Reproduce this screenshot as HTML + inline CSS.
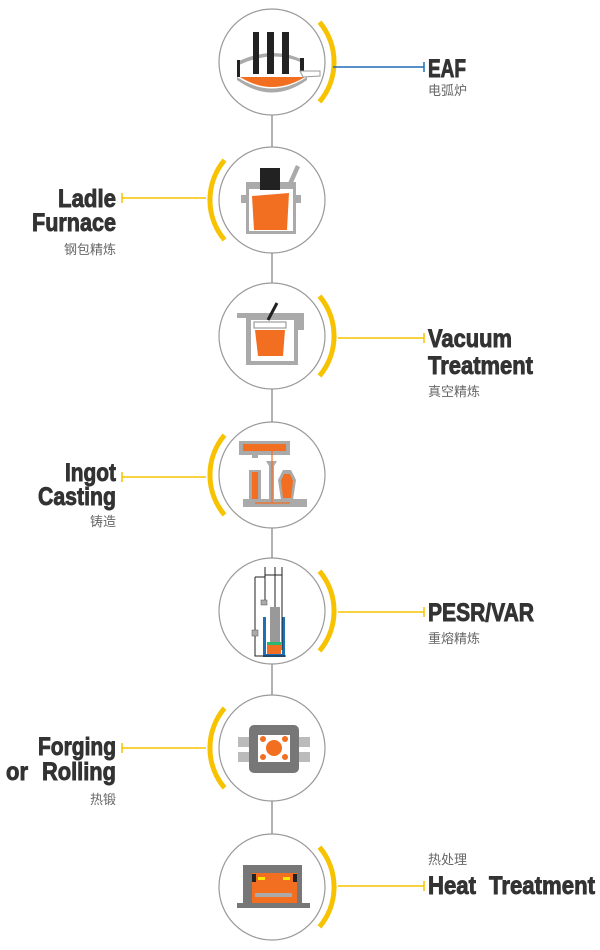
<!DOCTYPE html>
<html><head><meta charset="utf-8"><style>
html,body{margin:0;padding:0;background:#fff;}
svg{display:block;}
.t{font-family:"Liberation Sans",sans-serif;font-weight:bold;font-size:25px;fill:#333;stroke:#333;stroke-width:0.9;}
.c{font-family:"Liberation Sans","Noto Sans CJK SC",sans-serif;font-size:13px;fill:#666;}
</style></head><body>
<svg width="600" height="950" viewBox="0 0 600 950" xmlns="http://www.w3.org/2000/svg">
<g stroke="#999" stroke-width="1.5">
<line x1="272" y1="115" x2="272" y2="147"/>
<line x1="272" y1="253" x2="272" y2="283"/>
<line x1="272" y1="389" x2="272" y2="422"/>
<line x1="272" y1="528" x2="272" y2="558"/>
<line x1="272" y1="664" x2="272" y2="695"/>
<line x1="272" y1="801" x2="272" y2="834"/>
</g>
<g fill="#fff" stroke="#999" stroke-width="1.2">
<circle cx="272" cy="62" r="53"/><circle cx="272" cy="200" r="53"/><circle cx="272" cy="336" r="53"/>
<circle cx="272" cy="475" r="53"/><circle cx="272" cy="611" r="53"/><circle cx="272" cy="748" r="53"/>
<circle cx="272" cy="887" r="53"/>
</g>
<g fill="none" stroke="#F7C300" stroke-width="5">
<path d="M319.5 22.1 A62 62 0 0 1 319.5 101.9"/>
<path d="M224.5 160.1 A62 62 0 0 0 224.5 239.9"/>
<path d="M319.5 296.1 A62 62 0 0 1 319.5 375.9"/>
<path d="M224.5 435.1 A62 62 0 0 0 224.5 514.9"/>
<path d="M319.5 571.1 A62 62 0 0 1 319.5 650.9"/>
<path d="M224.5 708.1 A62 62 0 0 0 224.5 787.9"/>
<path d="M319.5 847.1 A62 62 0 0 1 319.5 926.9"/>
</g>
<g stroke-width="1.5">
<line x1="333" y1="67" x2="424" y2="67" stroke="#1E6FB5"/><line x1="424" y1="62" x2="424" y2="72" stroke="#1E6FB5"/>
<g stroke="#F7C300">
<line x1="122" y1="198" x2="206" y2="198"/><line x1="122" y1="193" x2="122" y2="203"/>
<line x1="338" y1="338" x2="424" y2="338"/><line x1="424" y1="333" x2="424" y2="343"/>
<line x1="122" y1="477" x2="206" y2="477"/><line x1="122" y1="472" x2="122" y2="482"/>
<line x1="338" y1="612" x2="424" y2="612"/><line x1="424" y1="607" x2="424" y2="617"/>
<line x1="122" y1="748" x2="206" y2="748"/><line x1="122" y1="743" x2="122" y2="753"/>
<line x1="338" y1="886" x2="424" y2="886"/><line x1="424" y1="881" x2="424" y2="891"/>
</g></g>
<text class="t" x="428" y="77" textLength="38" lengthAdjust="spacingAndGlyphs">EAF</text><text class="c" x="428" y="95">电弧炉</text>
<text class="t" x="58" y="207" textLength="58" lengthAdjust="spacingAndGlyphs">Ladle</text><text class="t" x="32" y="231" textLength="84" lengthAdjust="spacingAndGlyphs">Furnace</text><text class="c" x="116" y="254" text-anchor="end">钢包精炼</text>
<text class="t" x="428" y="347" textLength="84" lengthAdjust="spacingAndGlyphs">Vacuum</text><text class="t" x="428" y="374" textLength="105" lengthAdjust="spacingAndGlyphs">Treatment</text><text class="c" x="428" y="396">真空精炼</text>
<text class="t" x="65" y="481" textLength="51" lengthAdjust="spacingAndGlyphs">Ingot</text><text class="t" x="38" y="505" textLength="78" lengthAdjust="spacingAndGlyphs">Casting</text><text class="c" x="116" y="526" text-anchor="end">铸造</text>
<text class="t" x="428" y="621" textLength="106" lengthAdjust="spacingAndGlyphs">PESR/VAR</text><text class="c" x="428" y="643">重熔精炼</text>
<text class="t" x="38" y="755" textLength="78" lengthAdjust="spacingAndGlyphs">Forging</text><text class="t" x="6" y="780" textLength="22" lengthAdjust="spacingAndGlyphs">or</text><text class="t" x="42" y="780" textLength="74" lengthAdjust="spacingAndGlyphs">Rolling</text><text class="c" x="116" y="804" text-anchor="end">热锻</text>
<text class="c" x="428" y="864">热处理</text><text class="t" x="428" y="894" textLength="48" lengthAdjust="spacingAndGlyphs">Heat</text><text class="t" x="489" y="894" textLength="106" lengthAdjust="spacingAndGlyphs">Treatment</text>
<!-- EAF icon -->
<path d="M237 77 Q272 100 307 77 L307 80 Q272 105 237 80Z" fill="#aaa"/>
<path d="M240 77 Q272 97 305 77Z" fill="#F26F21"/>
<path d="M237 62 Q272 45 303 60 L303 63 Q272 49 239 65Z" fill="#aaa"/>
<rect x="237" y="60" width="3" height="17" fill="#222"/>
<rect x="253" y="32" width="6" height="42" fill="#222"/><rect x="267" y="32" width="7" height="42" fill="#222"/><rect x="282" y="32" width="7" height="42" fill="#222"/>
<rect x="300" y="58" width="4" height="14" fill="#222"/>
<path d="M300 71 L320 71 L320 76 L303 77Z" fill="#fff" stroke="#999" stroke-width="1"/>
<!-- Ladle -->
<path d="M288 183 L296 165 L300 167 L292 185Z" fill="#aaa"/>
<rect x="246" y="182" width="50" height="52" fill="#aaa"/><rect x="241" y="195" width="6" height="8" fill="#aaa"/><rect x="295" y="195" width="6" height="8" fill="#aaa"/>
<rect x="249" y="189" width="44" height="42" fill="#fff"/>
<path d="M252 196 L289 193 L287 230 L254 230Z" fill="#F26F21"/>
<rect x="260" y="168" width="20" height="22" fill="#222"/>
<!-- Vacuum -->
<rect x="237" y="313" width="67" height="5" fill="#aaa"/>
<path d="M246 316 L304 316 L304 330 L298 330 L298 365 L246 365Z" fill="#aaa"/>
<rect x="251" y="320" width="43" height="41" fill="#fff"/>
<rect x="254" y="322" width="32" height="6" fill="#fff" stroke="#888" stroke-width="1"/>
<path d="M255 330 L285 330 L283 356 L258 356Z" fill="#F26F21"/>
<line x1="277" y1="303" x2="268" y2="320" stroke="#222" stroke-width="3"/>
<!-- Ingot -->
<rect x="239" y="441" width="51" height="14" fill="#aaa"/><rect x="243" y="444" width="43" height="7" fill="#F26F21"/>
<rect x="252" y="455" width="6" height="3" fill="#aaa"/>
<path d="M266 461 L277 461 L274 466 L274 500 L269 500 L269 466Z" fill="#aaa"/>
<rect x="249" y="470" width="12" height="30" fill="#aaa"/><rect x="252" y="472" width="6" height="28" fill="#F26F21"/>
<path d="M283 470 L291 470 L296 480 L293 500 L281 500 L278 480Z" fill="#aaa"/><path d="M284 474 L290 474 L293 481 L291 498 L283 498 L281 481Z" fill="#F26F21"/>
<rect x="243" y="499" width="64" height="8" fill="#aaa"/>
<path d="M272 451 L272 503 M255 503 L290 503" stroke="#F26F21" stroke-width="1.2" fill="none"/>
<!-- PESR -->
<rect x="263" y="617" width="22" height="40" fill="#1E6FB5"/><rect x="266" y="617" width="16" height="37" fill="#fff"/>
<rect x="270" y="607" width="10" height="35" fill="#999"/><rect x="267" y="642" width="14" height="3" fill="#2BB673"/><rect x="267" y="645" width="14" height="9" fill="#F26F21"/>
<g stroke="#222" stroke-width="1" fill="none"><path d="M255 577 L255 656 L286 656 M265 567 L265 600 M282 567 L282 650 M275 567 L275 607 M265 575 L282 575 M255 577 L265 577"/></g>
<rect x="261" y="600" width="6" height="5" fill="#aaa" stroke="#555" stroke-width=".5"/><rect x="252" y="630" width="6" height="6" fill="#aaa" stroke="#555" stroke-width=".5"/>
<!-- Forging -->
<rect x="238" y="737" width="72" height="10" fill="#bbb"/><rect x="238" y="752" width="72" height="10" fill="#bbb"/>
<rect x="249" y="725" width="50" height="48" rx="5" fill="#777"/>
<path d="M258 735 L290 735 L290 762 L258 762Z" fill="#fff"/>
<circle cx="274" cy="748" r="8" fill="#F26F21"/>
<g fill="#F26F21"><circle cx="263" cy="739" r="3"/><circle cx="285" cy="739" r="3"/><circle cx="263" cy="757" r="3"/><circle cx="285" cy="757" r="3"/></g>
<!-- Heat -->
<rect x="243" y="865" width="59" height="40" fill="#777"/><rect x="252" y="873" width="45" height="32" fill="#F26F21"/>
<rect x="252" y="874" width="4" height="8" fill="#222"/><rect x="293" y="874" width="4" height="8" fill="#222"/>
<rect x="258" y="877" width="7" height="3" fill="#FFE600"/><rect x="283" y="877" width="7" height="3" fill="#FFE600"/>
<rect x="255" y="893" width="37" height="4" fill="#aaa"/>
<rect x="237" y="903" width="73" height="5" fill="#777"/>
</svg>
</body></html>
